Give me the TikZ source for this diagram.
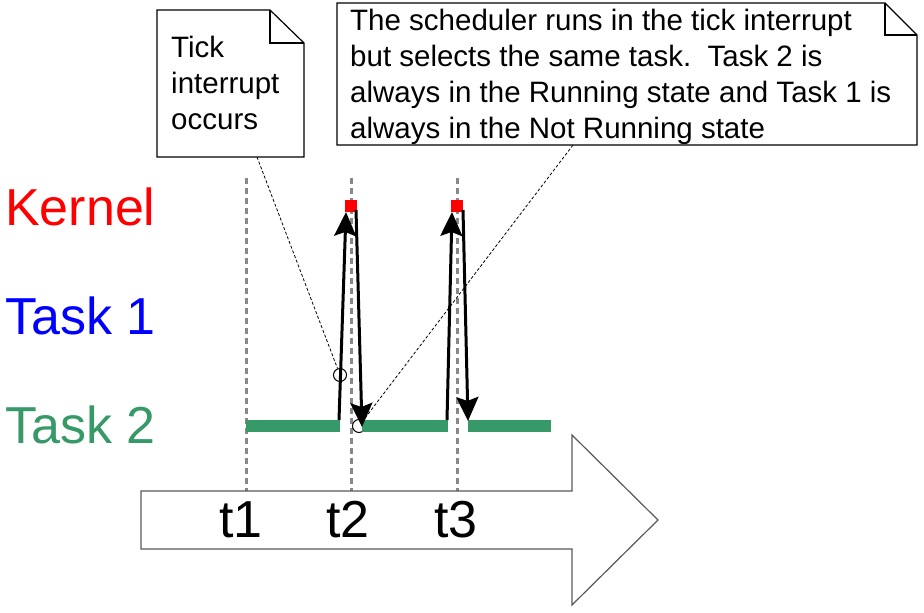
\documentclass[tikz,border=0pt]{standalone}
\usepackage{fontspec}
\setmainfont{Liberation Sans}
\usepackage{tikz}
\usetikzlibrary{arrows.meta, positioning}
\definecolor{kernelred}{RGB}{255,0,0}
\definecolor{taskblue}{RGB}{0,0,255}
\definecolor{taskgreen}{RGB}{56,153,104}
\definecolor{tickgray}{RGB}{136,136,136}
\tikzset{>={Stealth[length=24pt,width=22pt,inset=4pt]}}
\tikzset{
  rowlabel/.style={anchor=west, inner sep=0pt, font=\fontsize{52}{60}\selectfont},
  notetext/.style={anchor=north west, inner sep=0pt, align=left, font=\fontsize{29.5}{36}\selectfont},
  tickline/.style={tickgray, line width=3pt, dash pattern=on 6pt off 4pt},
  runbar/.style={taskgreen, line width=12pt},
  callout/.style={black, line width=0.8pt, dash pattern=on 3pt off 2pt},
  switch/.style={->, line width=3pt},
  probe/.style={circle, draw, line width=1pt, minimum size=13pt, inner sep=0pt},
  kbox/.style={fill=kernelred, minimum size=12pt, inner sep=0pt}
}

\begin{document}
\begin{tikzpicture}[x=1pt, y=-1pt]
	\useasboundingbox (0,0) rectangle (924,613);
	% rows
	\node[rowlabel, kernelred] (kernel) at (5,207) {Kernel};
	\node[rowlabel, taskblue] (task1) at (5,316) {Task 1};
	\node[rowlabel, taskgreen] (task2) at (5,425) {Task 2};
	% tick instants
	\foreach \n/\x in {1/246, 2/351, 3/457}{
		\coordinate (top\n) at (\x,178);
		\coordinate (bot\n) at (\x,491);
		\draw[tickline] (top\n) -- (bot\n);
	}
	\node[probe] (c2) at (359,426) {};
	% task 2 running
	\coordinate (b1s) at (246,426); \coordinate (b1e) at (340,426);
	\coordinate (b2s) at (362,426); \coordinate (b2e) at (448,426);
	\coordinate (b3s) at (468,426); \coordinate (b3e) at (551,426);
	\draw[runbar] (b1s)--(b1e); \draw[runbar] (b2s)--(b2e); \draw[runbar] (b3s)--(b3e);
	% kernel
	\node[kbox] (k1) at (351,206) {};
	\node[kbox] (k2) at (457,206) {};
	\coordinate (u1) at (339,420); \coordinate (d1) at (362,427);
	\coordinate (u2) at (447,420); \coordinate (d2) at (468,421);
	\draw[switch] (u1) -- (346,212); \draw[switch] (356,210) -- (d1);
	\draw[switch] (u2) -- (452,212); \draw[switch] (463,210) -- (d2);
	\node[probe] (c1) at (340,375) {};
	% notes
	\coordinate (n1) at (257,157); \coordinate (n2) at (573,145);
	\draw[callout] (n1) -- (c1);
	\draw[callout] (n2) -- (c2);
	\draw[fill=white, line width=1.2pt] (157,10) -- (270,10) -- (304,43) -- (304,157) -- (157,157) -- cycle;
	\draw[line width=1.2pt] (270,10) -- (270,43) -- (304,43);
	\node[notetext] (note1) at (171,36) {Tick\\interrupt\\occurs};
	\draw[fill=white, line width=1.2pt] (337,3) -- (885,3) -- (917,35) -- (917,145) -- (337,145) -- cycle;
	\draw[line width=1.2pt] (885,3) -- (885,35) -- (917,35);
	\node[notetext] (note2) at (350,9) {The scheduler runs in the tick interrupt\\but selects the same task.\ \ Task 2 is\\always in the Running state and Task 1 is\\always in the Not Running state};
	% time axis
	\draw[fill=white, draw=black!65, line width=1.2pt] (141,491) -- (572,491) -- (572,435) -- (658,520) -- (572,605) -- (572,549) -- (141,549) -- cycle;
	\foreach \n/\x in {1/241, 2/348, 3/456}{
		\node[font=\fontsize{52}{60}\selectfont, inner sep=0pt] (t\n) at (\x,520) {t\n};
	}
\end{tikzpicture}
\end{document}
